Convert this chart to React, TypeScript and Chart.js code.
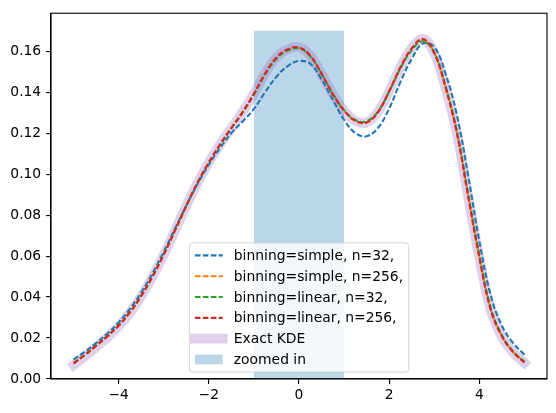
import React, { useEffect, useRef } from "react";
import { Chart, registerables } from "chart.js";

Chart.register(...registerables);

const xGrid = [
  -5, -4.75, -4.5, -4.25, -4, -3.75, -3.5, -3.25, -3, -2.75, -2.5, -2.25, -2, -1.75, -1.5, -1.25, -1, -0.75, -0.5, -0.25,
  0, 0.25, 0.5, 0.75, 1, 1.25, 1.5, 1.75, 2, 2.25, 2.5, 2.75, 3, 3.25, 3.5, 3.75, 4, 4.25, 4.5, 4.75, 5,
];

const exactKDE = [
  0.0068, 0.0110, 0.0155, 0.0203, 0.0256, 0.0322, 0.0403, 0.0498, 0.0606, 0.0724, 0.0845, 0.0958, 0.1057, 0.1145, 0.1225, 0.1303, 0.1392, 0.1492, 0.1570, 0.1610,
  0.1619, 0.1578, 0.1490, 0.1390, 0.1310, 0.1260, 0.1252, 0.1302, 0.1405, 0.1522, 0.1615, 0.1660, 0.1590, 0.1420, 0.1200, 0.0890, 0.0590, 0.0338, 0.0206, 0.0129, 0.0079,
];

const simple32 = [
  0.0095, 0.0133, 0.0175, 0.0222, 0.0276, 0.0342, 0.0422, 0.0515, 0.0620, 0.0733, 0.0846, 0.0952, 0.1046, 0.1128, 0.1200, 0.1257, 0.1318, 0.1400, 0.1475, 0.1527,
  0.1552, 0.1538, 0.1462, 0.1363, 0.1265, 0.1200, 0.1185, 0.1225, 0.1320, 0.1450, 0.1562, 0.1638, 0.1620, 0.1490, 0.1290, 0.0995, 0.0672, 0.0410, 0.0260, 0.0175, 0.0118,
];

const simple256 = [
  0.0077, 0.0118, 0.0162, 0.0209, 0.0261, 0.0326, 0.0406, 0.0500, 0.0608, 0.0725, 0.0845, 0.0958, 0.1056, 0.1144, 0.1224, 0.1302, 0.1391, 0.1490, 0.1568, 0.1608,
  0.1617, 0.1577, 0.1489, 0.1390, 0.1310, 0.1260, 0.1253, 0.1302, 0.1404, 0.1520, 0.1612, 0.1657, 0.1592, 0.1424, 0.1204, 0.0895, 0.0595, 0.0342, 0.0209, 0.0132, 0.0082,
];

const linear32 = [
  0.0077, 0.0118, 0.0163, 0.0210, 0.0262, 0.0327, 0.0407, 0.0501, 0.0609, 0.0726, 0.0845, 0.0957, 0.1055, 0.1143, 0.1223, 0.1300, 0.1388, 0.1487, 0.1563, 0.1603,
  0.1613, 0.1575, 0.1489, 0.1391, 0.1312, 0.1264, 0.1258, 0.1305, 0.1403, 0.1516, 0.1605, 0.1648, 0.1593, 0.1430, 0.1212, 0.0905, 0.0604, 0.0350, 0.0214, 0.0135, 0.0084,
];

const linear256 = [
  0.0076, 0.0117, 0.0162, 0.0208, 0.0260, 0.0325, 0.0405, 0.0499, 0.0607, 0.0725, 0.0845, 0.0958, 0.1057, 0.1145, 0.1225, 0.1303, 0.1392, 0.1491, 0.1569, 0.1609,
  0.1618, 0.1578, 0.1490, 0.1390, 0.1310, 0.1260, 0.1252, 0.1302, 0.1405, 0.1521, 0.1614, 0.1659, 0.1591, 0.1422, 0.1202, 0.0893, 0.0593, 0.0340, 0.0208, 0.0131, 0.0080,
];

const zoomRange = [-1, 1];
const zoomHeight = 0.17;

const xTicks = [-4, -2, 0, 2, 4];
const yTicks = [0, 0.02, 0.04, 0.06, 0.08, 0.1, 0.12, 0.14, 0.16];

const seriesLabels = [
  "binning=simple, n=32,",
  "binning=simple, n=256,",
  "binning=linear, n=32,",
  "binning=linear, n=256,",
  "Exact KDE",
  "zoomed in",
];

const FS = 13.89;
const FONT = "DejaVu Sans";
const LW = 2.08;
const DASH = [5.55, 2.4];

const toPts = (ys: number[]) => xGrid.map((x, i) => ({ x, y: ys[i] }));

const legendPlugin = {
  id: "mplLegend",
  afterDraw(chart: any) {
    const ctx = chart.ctx;
    const ca = chart.chartArea;
    const ds = chart.data.datasets;
    ctx.save();
    ctx.strokeStyle = "#000";
    ctx.lineWidth = 1.1;
    ctx.strokeRect(ca.left, ca.top, ca.right - ca.left, ca.bottom - ca.top);

    ctx.font = `${FS}px "${FONT}"`;
    const pad = 0.4 * FS;
    const handleLen = 2.0 * FS;
    const handlePad = 0.8 * FS;
    const spacing = 0.5 * FS;
    const rowH = FS;
    const textW = Math.max(...seriesLabels.map((t) => ctx.measureText(t).width));
    const boxW = textW + 2 * pad + handleLen + handlePad;
    const n = seriesLabels.length;
    const boxH = n * rowH + (n - 1) * spacing + 2 * pad;
    const cx = (ca.left + ca.right) / 2;
    const x0 = cx - boxW / 2;
    const y0 = ca.bottom - 0.5 * FS - boxH;
    const r = 0.2 * FS;
    ctx.beginPath();
    ctx.moveTo(x0 + r, y0);
    ctx.lineTo(x0 + boxW - r, y0);
    ctx.quadraticCurveTo(x0 + boxW, y0, x0 + boxW, y0 + r);
    ctx.lineTo(x0 + boxW, y0 + boxH - r);
    ctx.quadraticCurveTo(x0 + boxW, y0 + boxH, x0 + boxW - r, y0 + boxH);
    ctx.lineTo(x0 + r, y0 + boxH);
    ctx.quadraticCurveTo(x0, y0 + boxH, x0, y0 + boxH - r);
    ctx.lineTo(x0, y0 + r);
    ctx.quadraticCurveTo(x0, y0, x0 + r, y0);
    ctx.closePath();
    ctx.fillStyle = "rgba(255,255,255,0.8)";
    ctx.fill();
    ctx.strokeStyle = "rgba(204,204,204,0.8)";
    ctx.lineWidth = 1;
    ctx.stroke();

    const hx = x0 + pad;
    const tx = hx + handleLen + handlePad;
    for (let i = 0; i < n; i++) {
      const cy = y0 + pad + rowH / 2 + i * (rowH + spacing);
      const d = ds[i];
      if (i < 4) {
        ctx.setLineDash(DASH);
        ctx.lineCap = "butt";
        ctx.strokeStyle = d.borderColor;
        ctx.lineWidth = LW;
        ctx.beginPath();
        ctx.moveTo(hx, cy);
        ctx.lineTo(hx + handleLen, cy);
        ctx.stroke();
        ctx.setLineDash([]);
      } else if (i === 4) {
        ctx.lineCap = "square";
        ctx.strokeStyle = d.borderColor;
        ctx.lineWidth = d.borderWidth;
        ctx.beginPath();
        ctx.moveTo(hx, cy);
        ctx.lineTo(hx + handleLen, cy);
        ctx.stroke();
      } else {
        ctx.fillStyle = d.backgroundColor;
        const h = 0.7 * FS;
        ctx.fillRect(hx, cy - h / 2, handleLen, h);
      }
      ctx.fillStyle = "#000";
      ctx.textBaseline = "middle";
      ctx.textAlign = "left";
      ctx.fillText(seriesLabels[i], tx, cy + 1);
    }
    ctx.restore();
  },
};

export default function App() {
  const ref = useRef<HTMLCanvasElement | null>(null);
  useEffect(() => {
    if (!ref.current) return;
    const dashed = (label: string, ys: number[], color: string, order: number) => ({
      label,
      data: toPts(ys),
      borderColor: color,
      backgroundColor: color,
      borderWidth: LW,
      borderDash: DASH,
      pointRadius: 0,
      fill: false,
      tension: 0.4,
      order,
    });
    const chart = new Chart(ref.current, {
      type: "line",
      data: {
        datasets: [
          dashed(seriesLabels[0], simple32, "#1f77b4", 4),
          dashed(seriesLabels[1], simple256, "#ff7f0e", 3),
          dashed(seriesLabels[2], linear32, "#2ca02c", 2),
          dashed(seriesLabels[3], linear256, "#d62728", 1),
          {
            label: seriesLabels[4],
            data: toPts(exactKDE),
            borderColor: "rgba(148,103,189,0.3)",
            backgroundColor: "rgba(148,103,189,0.3)",
            borderWidth: 9.7,
            borderCapStyle: "square",
            pointRadius: 0,
            fill: false,
            tension: 0.4,
            order: 5,
          },
          {
            label: seriesLabels[5],
            data: [
              { x: zoomRange[0], y: zoomHeight },
              { x: zoomRange[1], y: zoomHeight },
            ],
            borderColor: "rgba(0,0,0,0)",
            backgroundColor: "rgba(31,119,180,0.3)",
            borderWidth: 0,
            pointRadius: 0,
            fill: "origin",
            order: 6,
          },
        ] as any,
      },
      options: {
        responsive: false,
        animation: false,
        layout: { padding: { left: 0, top: 11, right: 9, bottom: 0 } },
        plugins: { legend: { display: false }, tooltip: { enabled: false } },
        scales: {
          x: {
            type: "linear",
            min: -5.5,
            max: 5.5,
            afterBuildTicks: (axis: any) => {
              axis.ticks = xTicks.map((v) => ({ value: v }));
            },
            afterFit: (s: any) => {
              s.height = 34;
            },
            grid: { drawOnChartArea: false, drawTicks: true, tickLength: 4.9, color: "#000", lineWidth: 1.1 },
            border: { display: true, color: "#000", width: 1.1 },
            ticks: {
              color: "#000",
              font: { family: FONT, size: FS },
              padding: 3,
              maxRotation: 0,
              autoSkip: false,
              callback: (v: any) => (v < 0 ? "\u2212" + Math.abs(v) : String(v)),
            },
          },
          y: {
            type: "linear",
            min: 0,
            max: 0.1785,
            afterBuildTicks: (axis: any) => {
              axis.ticks = yTicks.map((v) => ({ value: v }));
            },
            afterFit: (s: any) => {
              s.width = 51;
            },
            grid: { drawOnChartArea: false, drawTicks: true, tickLength: 4.9, color: "#000", lineWidth: 1.1 },
            border: { display: true, color: "#000", width: 1.1 },
            ticks: {
              color: "#000",
              font: { family: FONT, size: FS },
              padding: 4.9,
              autoSkip: false,
              callback: (v: any) => Number(v).toFixed(2),
            },
          },
        },
      },
      plugins: [legendPlugin],
    });
    return () => chart.destroy();
  }, []);
  return (
    <div style={{ position: "fixed", left: 0, top: 0, width: 556, height: 413, background: "#fff" }}>
      <canvas ref={ref} width={556} height={413} style={{ display: "block" }} />
    </div>
  );
}
